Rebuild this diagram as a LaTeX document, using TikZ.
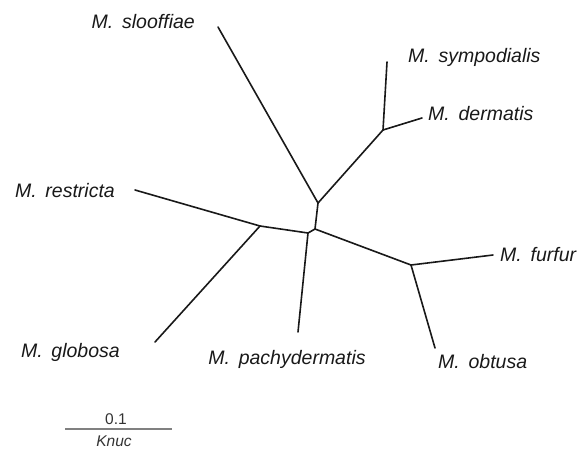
\documentclass[tikz,border=0pt]{standalone}
\usepackage{fontspec}
\setmainfont{Liberation Sans}
\begin{document}
\begin{tikzpicture}[x=1pt,y=-1pt,
  branch/.style={line width=1.6pt,black!90,line cap=round},
  lab/.style={inner sep=0pt,font=\fontsize{19.5}{22}\selectfont\itshape,text=black!90},
  scl/.style={inner sep=0pt,font=\fontsize{15.5}{17}\selectfont,text=black!80}]
\useasboundingbox (0,0) rectangle (585,450);
% internal nodes
\coordinate (A) at (318,203);
\coordinate (B) at (315,229);
\coordinate (C) at (308,233);
\coordinate (D) at (383,130);
\coordinate (E) at (260,226);
\coordinate (F) at (411,265);
% leaves
\coordinate (slo) at (218,27);
\coordinate (sym) at (387,62);
\coordinate (der) at (422,118);
\coordinate (res) at (135,190);
\coordinate (glo) at (155,342);
\coordinate (pac) at (298,332);
\coordinate (fur) at (493,255);
\coordinate (obt) at (435,348);
% branches
\draw[branch] (slo) -- (A);
\draw[branch] (A) -- (D);
\draw[branch] (D) -- (sym);
\draw[branch] (D) -- (der);
\draw[branch] (A) -- (B);
\draw[branch] (B) -- (C);
\draw[branch] (C) -- (E);
\draw[branch] (E) -- (res);
\draw[branch] (E) -- (glo);
\draw[branch] (C) -- (pac);
\draw[branch] (B) -- (F);
\draw[branch] (F) -- (fur);
\draw[branch] (F) -- (obt);
% labels
\node[lab,anchor=base east] (lslo) at (195,28) {M.\hspace{0.45em}slooffiae};
\node[lab,anchor=base west] (lsym) at (408,62) {M.\hspace{0.45em}sympodialis};
\node[lab,anchor=base west] (lder) at (428,120) {M.\hspace{0.45em}dermatis};
\node[lab,anchor=base east] (lres) at (115,197) {M.\hspace{0.45em}restricta};
\node[lab,anchor=base east] (lglo) at (120,357) {M.\hspace{0.45em}globosa};
\node[lab,anchor=base] (lpac) at (287,364) {M.\hspace{0.45em}pachydermatis};
\node[lab,anchor=base west] (lfur) at (500,261) {M.\hspace{0.45em}furfur};
\node[lab,anchor=base west] (lobt) at (438,368) {M.\hspace{0.45em}obtusa};
% scale bar
\coordinate (s1) at (65,429);
\coordinate (s2) at (172,429);
\draw[line width=1.3pt,black!50] (s1) -- (s2);
\node[scl,anchor=base] (sval) at (116,424) {0.1};
\node[scl,anchor=base] (sunit) at (114,446) {\itshape Knuc};
\end{tikzpicture}
\end{document}
